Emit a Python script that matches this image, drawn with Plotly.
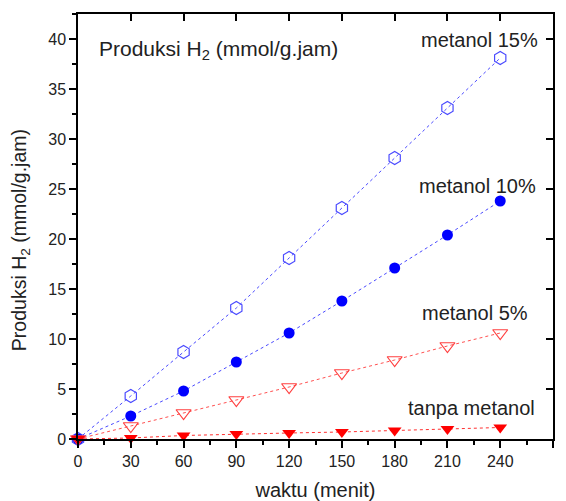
import plotly.graph_objects as go

waktu = [0, 30, 60, 90, 120, 150, 180, 210, 240]
metanol15 = [0, 4.3, 8.7, 13.1, 18.1, 23.1, 28.1, 33.1, 38.1]
metanol10 = [0, 2.3, 4.8, 7.7, 10.6, 13.8, 17.1, 20.4, 23.8]
metanol5 = [0, 1.3, 2.6, 3.9, 5.2, 6.6, 7.9, 9.3, 10.6]
tanpa = [0, 0.1, 0.35, 0.5, 0.6, 0.7, 0.85, 1.0, 1.15]

FONT = "Liberation Sans, Arial, sans-serif"

fig = go.Figure()
fig.add_trace(go.Scatter(x=waktu, y=metanol15, mode="lines+markers",
                         line=dict(color="#4a4aff", width=1, dash="dot"),
                         marker=dict(symbol="hexagon-open", size=13, color="#4a4aff", line=dict(width=1.2)),
                         cliponaxis=False, showlegend=False))
fig.add_trace(go.Scatter(x=waktu, y=metanol10, mode="lines+markers",
                         line=dict(color="#4a4aff", width=1, dash="dot"),
                         marker=dict(symbol="circle", size=11, color="#0000ff"),
                         cliponaxis=False, showlegend=False))
fig.add_trace(go.Scatter(x=waktu, y=metanol5, mode="lines+markers",
                         line=dict(color="#ff5050", width=1, dash="dot"),
                         marker=dict(symbol="triangle-down-open", size=13, color="#ff4040", line=dict(width=1.2)),
                         cliponaxis=False, showlegend=False))
fig.add_trace(go.Scatter(x=waktu, y=tanpa, mode="lines+markers",
                         line=dict(color="#ff3030", width=1, dash="dot"),
                         marker=dict(symbol="triangle-down", size=12, color="#ff0000"),
                         cliponaxis=False, showlegend=False))
# empty trace to hold the mirrored top/right axes
fig.add_trace(go.Scatter(x=[None], y=[None], xaxis="x2", yaxis="y2", showlegend=False, hoverinfo="skip"))

axis_common = dict(showgrid=False, zeroline=False, showline=True, linecolor="black", linewidth=1.5,
                   tickcolor="black", tickwidth=1.5, automargin=False,
                   tickfont=dict(family=FONT, size=16, color="#222"))

fig.update_layout(
    width=566, height=501,
    margin=dict(l=78, r=13, t=14, b=62),
    paper_bgcolor="white", plot_bgcolor="white",
    xaxis=dict(range=[0, 270], dtick=30, tick0=0, ticks="outside", ticklen=7,
               minor=dict(dtick=15, ticks="outside", ticklen=4, tickcolor="black", tickwidth=1.5),
               title=dict(text="waktu (menit)", font=dict(family=FONT, size=20, color="#222"), standoff=14),
               **axis_common),
    yaxis=dict(range=[0, 42.5], dtick=5, tick0=0, ticks="outside", ticklen=7,
               minor=dict(dtick=2.5, ticks="outside", ticklen=4, tickcolor="black", tickwidth=1.5),
               **axis_common),
    xaxis2=dict(range=[0, 270], dtick=30, tick0=0, ticks="inside", ticklen=7, overlaying="x", side="top",
                showticklabels=False, anchor="y2", **axis_common),
    yaxis2=dict(range=[0, 42.5], dtick=5, tick0=0, ticks="inside", ticklen=7, overlaying="y", side="right",
                showticklabels=False, anchor="x2", **axis_common),
)

# y-axis title placed as rotated annotation
fig.add_annotation(x=-0.122, y=0.468, xref="paper", yref="paper", textangle=-90,
                   text="Produksi H<sub>2</sub> (mmol/g.jam)", showarrow=False,
                   xanchor="center", yanchor="middle", font=dict(family=FONT, size=19.5, color="#222"))

ann_font = dict(family=FONT, size=20, color="#222")
fig.add_annotation(x=10.8, y=38.9, xref="x", yref="y", text="Produksi H<sub>2</sub> (mmol/g.jam)",
                   showarrow=False, xanchor="left", yanchor="middle", font=dict(family=FONT, size=21, color="#222"))
fig.add_annotation(x=262.5, y=39.9, text="metanol 15%", showarrow=False, xanchor="right", yanchor="middle", font=ann_font)
fig.add_annotation(x=261.4, y=25.3, text="metanol 10%", showarrow=False, xanchor="right", yanchor="middle", font=ann_font)
fig.add_annotation(x=257, y=12.6, text="metanol 5%", showarrow=False, xanchor="right", yanchor="middle", font=ann_font)
fig.add_annotation(x=261, y=3.1, text="tanpa metanol", showarrow=False, xanchor="right", yanchor="middle", font=ann_font)

fig.write_html("out.html")
